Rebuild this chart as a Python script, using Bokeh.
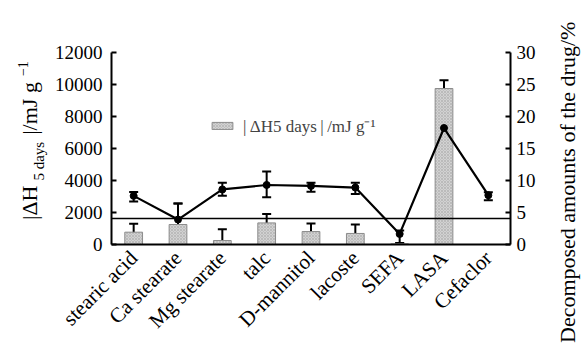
from math import pi
import numpy as np
from bokeh.plotting import figure
from bokeh.layouts import row
from bokeh.models import (ColumnDataSource, FactorRange, Range1d, LinearAxis, FixedTicker,
                          Whisker, TeeHead, Span, Legend, LegendItem, Div)
from bokeh.embed import file_html
from bokeh.resources import INLINE

categories = ["stearic acid", "Ca stearate", "Mg stearate", "talc", "D-mannitol",
              "lacoste", "SEFA", "LASA", "Cefaclor"]

# |ΔH 5 days| / mJ g^-1 (bars, left axis)
dh_values = [770, 1250, 250, 1350, 810, 690, 40, 9750, np.nan]
dh_lower = [200, 660, 200, 200, 200, 140, 40, 9060, np.nan]
dh_upper = [1290, 2560, 955, 1910, 1310, 1250, 40, 10270, np.nan]

# Decomposed amounts of the drug / % (line, right axis)
dec_values = [7.6, 3.9, 8.6, 9.3, 9.15, 8.9, 1.65, 18.2, 7.7]
dec_lower = [6.7, 1.7, 7.6, 7.4, 8.25, 7.9, 0.25, 16.8, 6.9]
dec_upper = [8.2, 6.4, 9.65, 11.4, 9.65, 9.65, 2.2, 19.75, 8.15]

threshold_pct = 4.07

left_ticks = [0, 2000, 4000, 6000, 8000, 10000, 12000]
right_ticks = [0, 5, 10, 15, 20, 25, 30]

left_title_parts = ["|ΔH", "5 days", "|/mJ g", "−1"]
right_title = "Decomposed amounts of the drug/%"
legend_label = "|\u2009ΔH5 days\u2009|\u2009/mJ g⁻¹"

FONT = "Liberation Serif"
H = 346
LEFT_W = 50
RIGHT_W = 37
MAIN_W = 582 - LEFT_W - RIGHT_W

bar_src = ColumnDataSource(dict(x=categories, top=dh_values, lo=dh_lower, hi=dh_upper))
line_src = ColumnDataSource(dict(x=categories, y=dec_values, lo=dec_lower, hi=dec_upper))

p = figure(width=MAIN_W, height=H, x_range=FactorRange(factors=categories, range_padding=0),
           y_range=Range1d(0, 12000), output_backend="svg", toolbar_location=None,
           min_border_left=111 - LEFT_W, min_border_right=(582 - RIGHT_W) - 510,
           min_border_top=52, min_border_bottom=102)
p.extra_y_ranges = {"pct": Range1d(0, 30)}
p.outline_line_color = None
p.grid.visible = False

# left axis
ya = p.yaxis[0]
ya.ticker = FixedTicker(ticks=left_ticks)
ya.major_tick_in = 5
ya.major_tick_out = 0
ya.minor_tick_line_color = None
ya.axis_line_width = 2
ya.major_tick_line_width = 2
ya.major_label_text_font = FONT
ya.major_label_text_font_size = "19px"
ya.major_label_text_color = "black"
ya.major_label_standoff = 9

# right axis
ra = LinearAxis(y_range_name="pct", ticker=FixedTicker(ticks=right_ticks))
ra.major_tick_in = 5
ra.major_tick_out = 0
ra.minor_tick_line_color = None
ra.axis_line_width = 2
ra.major_tick_line_width = 2
ra.major_label_text_font = FONT
ra.major_label_text_font_size = "19px"
ra.major_label_text_color = "black"
ra.major_label_standoff = 6
p.add_layout(ra, "right")

# bottom axis
xa = p.xaxis[0]
xa.major_tick_line_color = None
xa.axis_line_width = 2
xa.major_label_orientation = pi / 4
xa.major_label_text_font = FONT
xa.major_label_text_font_size = "21px"
xa.major_label_text_color = "black"
xa.major_label_standoff = 4

# bars
bars = p.vbar(x="x", top="top", width=0.4, source=bar_src, fill_color="#d2d2d2",
              line_color="#8c8c8c", line_width=1, hatch_pattern="diagonal_cross",
              hatch_color="#ababab", hatch_scale=3, hatch_weight=0.6)
p.add_layout(Whisker(source=bar_src, base="x", lower="lo", upper="hi", line_width=2,
                     upper_head=TeeHead(size=9, line_width=2),
                     lower_head=TeeHead(size=9, line_width=2)))

# threshold line
p.add_layout(Span(location=threshold_pct, dimension="width", y_range_name="pct",
                  line_color="black", line_width=1.5))

# line series
p.line(x="x", y="y", source=line_src, y_range_name="pct", line_color="black", line_width=2.2)
p.scatter(x="x", y="y", source=line_src, y_range_name="pct", size=7,
          fill_color="black", line_color="black")
p.add_layout(Whisker(source=line_src, base="x", lower="lo", upper="hi", y_range_name="pct",
                     line_width=2, upper_head=TeeHead(size=9, line_width=2),
                     lower_head=TeeHead(size=9, line_width=2)))

# legend
legend = Legend(items=[LegendItem(label=legend_label, renderers=[bars])],
                location=(98, 107), padding=0, margin=0, border_line_alpha=0,
                background_fill_alpha=0, label_text_font=FONT, label_text_font_size="17px",
                glyph_width=26, glyph_height=9, label_standoff=8, label_height=16)
p.add_layout(legend)

# rotated axis titles (HTML text so that sub/superscripts are real text)
BASE = ("position:absolute; left:0; top:0; transform-origin:0 0; white-space:nowrap; "
        "font-family:'Liberation Serif', serif; color:black; line-height:22px; font-size:22px;")

left_html = (
    f'<div style="{BASE} transform: translate(19px, 220px) rotate(-90deg);">'
    f'{left_title_parts[0]}'
    f'<span style="position:relative; top:7px; font-size:15px; margin-left:5px; margin-right:7px;">{left_title_parts[1]}</span>'
    f'{left_title_parts[2]}'
    f'<span style="position:relative; top:-9px; font-size:14px; margin-left:6px;">{left_title_parts[3]}</span>'
    f'</div>'
)
right_html = f'<div style="{BASE} transform: translate(12px, 343px) rotate(-90deg);">{right_title}</div>'

ldiv = Div(text=left_html, width=LEFT_W, height=H, margin=0,
           styles={"position": "relative", "overflow": "visible"})
rdiv = Div(text=right_html, width=RIGHT_W, height=H, margin=0,
           styles={"position": "relative", "overflow": "visible"})

layout = row(ldiv, p, rdiv, spacing=0)
open("out.html", "w").write(file_html(layout, INLINE))
